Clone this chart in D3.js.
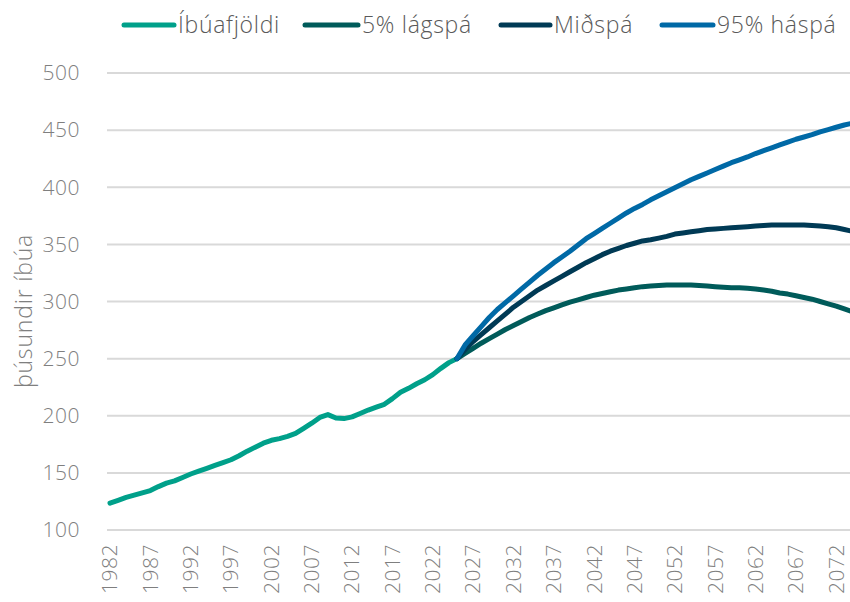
<!DOCTYPE html>
<html>
<head>
<meta charset="utf-8">
<script src="https://cdn.jsdelivr.net/npm/d3@7"></script>
<style>
  html, body { margin: 0; padding: 0; background: #fff; }
  svg { display: block; font-family: "Open Sans", sans-serif; }
</style>
</head>
<body>
<svg id="chart" width="850" height="602"></svg>
<script>
// ---- data ----
const histYears = d3.range(1982, 2026);
const histValues = [123.5,126,128.5,130.5,132.5,134.5,138,141,143,146,149,151.5,154,156.5,159,161.5,165,169,172.5,176,178.5,180,182,184.5,189,193.5,198.5,201,198,197.5,199,202,205,207.5,210,215,220.5,224,228,231.5,236,241.5,246.5,250];

const projYears = d3.range(2025, 2075);
const lowValues = [250,254.5,259,263.5,267.5,271.5,275.5,279,282.5,286,289,292,294.5,297,299.5,301.5,303.5,305.5,307,308.5,310,311,312,313,313.5,314,314.5,314.5,314.5,314.5,314,313.5,313,312.5,312,312,311.5,311,310,309,307.5,306.5,305,303.5,302,300,298,296,293.5,291];
const midValues = [250,258,265,271,277,283,289,295,300,305,310,314,318,322,326,330,334,337.5,341,344,346.5,349,351,353,354,355.5,357,359,360,361,362,363,363.5,364,364.5,365,365.5,366,366.5,367,367,367,367,367,366.5,366,365.5,364.5,363,361.5];
const highValues = [250,262,270,278,286,293,299,305,311,317,323,328.5,334,339,344,349.5,355,359.5,364,368.5,373,377.5,381.5,385,389,392.5,396,399.5,403,406.5,409.5,412.5,415.5,418.5,421.5,424,426.5,429.5,432,434.5,437,439.5,442,444,446,448.5,450.5,452.5,454.5,456];

const seriesNames = ["Íbúafjöldi", "5% lágspá", "Miðspá", "95% háspá"];
const seriesColors = ["#00a08a", "#005b5a", "#003a55", "#0069a6"];
const yTicks = [100,150,200,250,300,350,400,450,500];
const xTicks = d3.range(1982, 2073, 5);
const yLabel = "þúsundir íbúa";

// ---- build ----
const svg = d3.select("#chart");
const x = d3.scaleLinear().domain([1982, 2074]).range([110, 852.4]);
const y = d3.scaleLinear().domain([100, 500]).range([530, 73]);

// gridlines
svg.append("g").selectAll("line").data(yTicks).join("line")
  .attr("x1", 107).attr("x2", 850)
  .attr("y1", d => y(d)).attr("y2", d => y(d))
  .attr("stroke", "#d9d9d9").attr("stroke-width", 2);

// y tick labels
svg.append("g").selectAll("text").data(yTicks).join("text")
  .attr("x", 80).attr("y", d => y(d)).attr("dy", "0.35em")
  .attr("text-anchor", "end")
  .attr("font-size", 21).attr("font-weight", 300).attr("fill", "#7f7f7f")
  .attr("letter-spacing", 0.5)
  .text(d => d);

// x tick labels
svg.append("g").selectAll("text").data(xTicks).join("text")
  .attr("transform", d => `translate(${x(d)},544) rotate(-90)`)
  .attr("dy", "0.35em")
  .attr("text-anchor", "end")
  .attr("font-size", 21).attr("font-weight", 300).attr("fill", "#7f7f7f")
  .attr("letter-spacing", 0.5)
  .text(d => d);

// y label
svg.append("text")
  .attr("transform", "translate(24,311) rotate(-90)")
  .attr("dy", "0.35em")
  .attr("text-anchor", "middle")
  .attr("font-size", 23).attr("font-weight", 300).attr("fill", "#7f7f7f")
  .attr("letter-spacing", 0.8)
  .text(yLabel);

// lines
const line = d3.line().x(d => x(d[0])).y(d => y(d[1]));
const allSeries = [
  histYears.map((yr, i) => [yr, histValues[i]]),
  projYears.map((yr, i) => [yr, lowValues[i]]),
  projYears.map((yr, i) => [yr, midValues[i]]),
  projYears.map((yr, i) => [yr, highValues[i]])
];
svg.append("g").selectAll("path").data(allSeries).join("path")
  .attr("d", line)
  .attr("fill", "none")
  .attr("stroke", (d, i) => seriesColors[i])
  .attr("stroke-width", 5)
  .attr("stroke-linejoin", "round")
  .attr("stroke-linecap", "round");

// legend
const legendPos = [[124, 178], [305, 362], [501, 554], [662, 717]];
const lg = svg.append("g").selectAll("g").data(seriesNames).join("g");
lg.append("line")
  .attr("x1", (d, i) => legendPos[i][0]).attr("x2", (d, i) => legendPos[i][1] - 4)
  .attr("y1", 25).attr("y2", 25)
  .attr("stroke", (d, i) => seriesColors[i])
  .attr("stroke-width", 5).attr("stroke-linecap", "round");
lg.append("text")
  .attr("x", (d, i) => legendPos[i][1]).attr("y", 25).attr("dy", "0.35em")
  .attr("font-size", 23).attr("font-weight", 300).attr("fill", "#595959")
  .attr("letter-spacing", 0.7)
  .text(d => d);
</script>
</body>
</html>
